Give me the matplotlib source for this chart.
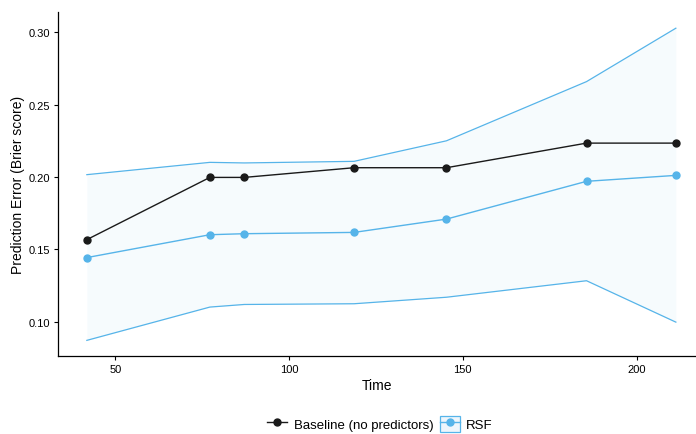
import numpy as np
import matplotlib.pyplot as plt
from matplotlib.lines import Line2D
from matplotlib.patches import Patch

plt.rcParams['font.family'] = ['Liberation Sans', 'DejaVu Sans']

# prediction error curves at the evaluation times
times = [41.8, 77.2, 87.1, 118.7, 145.3, 185.6, 211.3]
baseline = [0.1567, 0.1997, 0.1997, 0.2064, 0.2064, 0.2234, 0.2234]
rsf = [0.1443, 0.1601, 0.1608, 0.1617, 0.1709, 0.1970, 0.2011]
rsf_upper = [0.2016, 0.2101, 0.2097, 0.2108, 0.2250, 0.2659, 0.3028]
rsf_lower = [0.0871, 0.1101, 0.1119, 0.1124, 0.1169, 0.1283, 0.0997]

blue = '#56B4E9'
dark = '#1a1a1a'

fig = plt.figure(figsize=(6.96, 4.35), dpi=100)
ax = fig.add_axes([58/696, 1 - 356.7/435, 1 - 58/696, (356.7 - 13)/435])

ax.fill_between(times, rsf_lower, rsf_upper, color=blue, alpha=0.05, lw=0)
ax.plot(times, rsf_upper, color=blue, lw=0.9)
ax.plot(times, rsf_lower, color=blue, lw=0.9)
ax.plot(times, rsf, color=blue, lw=1.0, marker='o', ms=5)
ax.plot(times, baseline, color=dark, lw=1.0, marker='o', ms=5)

ax.set_xlim(33.5, 217.1)
ax.set_ylim(0.0765, 0.314)
ax.set_xticks([50, 100, 150, 200])
ax.set_yticks([0.10, 0.15, 0.20, 0.25, 0.30])
ax.set_yticklabels(['0.10', '0.15', '0.20', '0.25', '0.30'])
for s in ['top', 'right']:
    ax.spines[s].set_visible(False)
for s in ['left', 'bottom']:
    ax.spines[s].set_linewidth(0.9)
ax.tick_params(length=3, width=0.8, labelsize=8, colors='black', pad=3)
ax.set_xlabel('Time', fontsize=10, labelpad=3)
ax.set_ylabel('Prediction Error (Brier score)', fontsize=10, labelpad=2)

h_base = Line2D([], [], color=dark, lw=1.0, marker='o', ms=5)
h_rsf = (Patch(facecolor='#eef6fc', edgecolor=blue, lw=0.9),
         Line2D([], [], color=blue, lw=1.0, marker='o', ms=5))
fig.legend([h_base, h_rsf], ['Baseline (no predictors)', 'RSF'],
           loc='center', bbox_to_anchor=(380/696, 1 - 425/435), ncol=2,
           frameon=False, fontsize=9.5, handlelength=1.5, handleheight=1.6,
           columnspacing=0.5, handletextpad=0.5)

fig.savefig('out.png', dpi=100)
